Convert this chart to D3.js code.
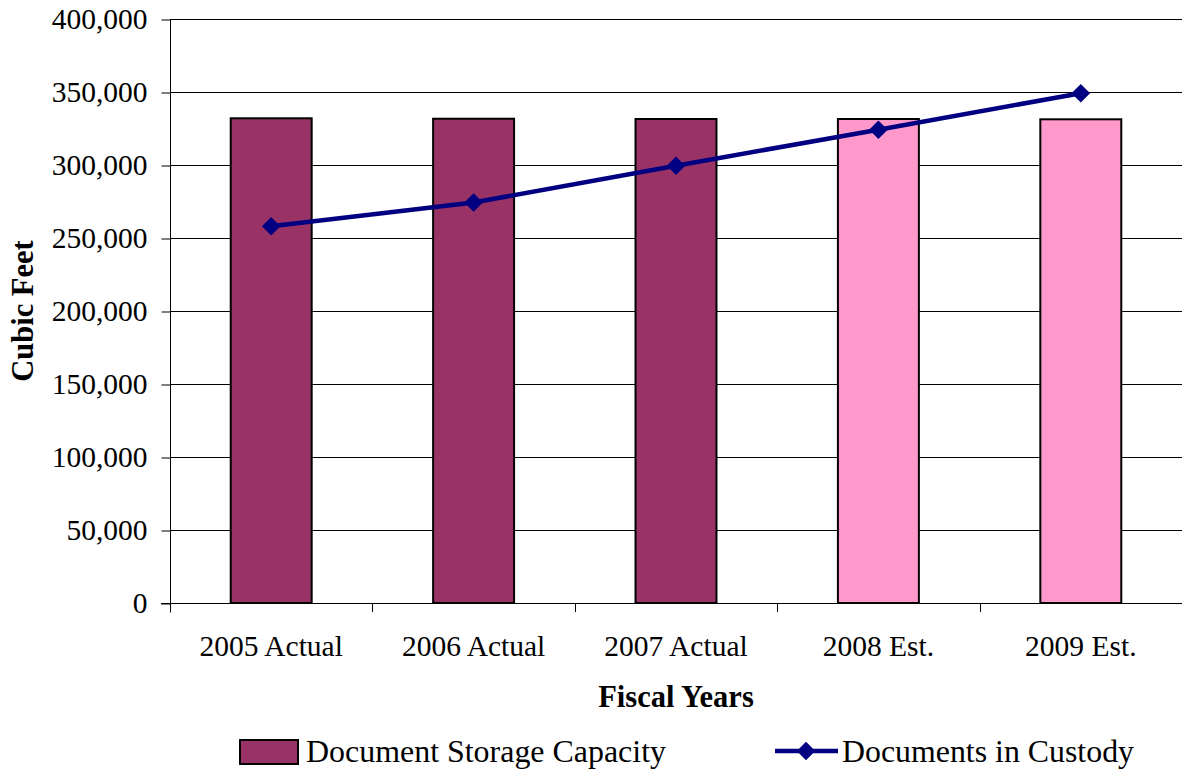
<!DOCTYPE html>
<html>
<head>
<meta charset="utf-8">
<script src="https://cdn.jsdelivr.net/npm/d3@7"></script>
<style>
  body { margin: 0; background: #fff; }
  text { font-family: "Liberation Serif", "Times New Roman", serif; fill: #000; }
</style>
</head>
<body>
<div id="chart"></div>
<script>
// chart data
var categories = ['2005 Actual', '2006 Actual', '2007 Actual', '2008 Est.', '2009 Est.'];
var capacity = [332000, 331700, 331500, 331500, 331300];
var custody = [258000, 274300, 299500, 324200, 349200];
var estimated = [false, false, false, true, true];
var yTicks = [0, 50000, 100000, 150000, 200000, 250000, 300000, 350000, 400000];

var width = 1182;
var height = 769;
var margin = {top: 19, right: 0, bottom: 166, left: 170};

var svg = d3.select('#chart').append('svg')
  .attr('width', width)
  .attr('height', height);

var x = d3.scaleBand()
  .domain(categories)
  .range([margin.left, width - margin.right])
  .paddingInner(0.6)
  .paddingOuter(0.3);

var y = d3.scaleLinear()
  .domain([0, 400000])
  .range([height - margin.bottom, margin.top]);

var fmt = d3.format(',');

// gridlines
svg.append('g')
  .selectAll('line')
  .data(yTicks.slice(1))
  .enter()
  .append('line')
  .attr('x1', margin.left)
  .attr('x2', width - margin.right)
  .attr('y1', function (d) { return Math.round(y(d)) + 0.5; })
  .attr('y2', function (d) { return Math.round(y(d)) + 0.5; })
  .style('stroke', '#000')
  .style('stroke-width', 1);

// y axis
var yAxis = svg.append('g')
  .attr('transform', 'translate(' + (margin.left + 0.5) + ',0.5)')
  .call(d3.axisLeft(y).tickValues(yTicks).tickFormat(fmt).tickSize(9).tickPadding(14));
yAxis.select('.domain').remove();
yAxis.append('line')
  .attr('y1', y(400000))
  .attr('y2', y(0) + 9)
  .style('stroke', '#000');
yAxis.selectAll('text')
  .style('font-size', '29.5px')
  .style('font-family', '"Liberation Serif", serif')
  .attr('fill', '#000');

// bars
svg.selectAll('.bar')
  .data(categories)
  .enter()
  .append('rect')
  .attr('class', 'bar')
  .attr('x', function (d) { return x(d); })
  .attr('y', function (d, i) { return y(capacity[i]); })
  .attr('width', x.bandwidth())
  .attr('height', function (d, i) { return y(0) - y(capacity[i]); })
  .style('fill', function (d, i) { return estimated[i] ? '#ff99cc' : '#993366'; })
  .style('stroke', '#000')
  .style('stroke-width', 2);

// x axis
var xAxisG = svg.append('g');
xAxisG.append('line')
  .attr('x1', margin.left - 9)
  .attr('x2', width - margin.right)
  .attr('y1', Math.round(y(0)) + 0.5)
  .attr('y2', Math.round(y(0)) + 0.5)
  .style('stroke', '#000');

var catWidth = (width - margin.right - margin.left) / categories.length;
xAxisG.selectAll('.xtick')
  .data(d3.range(categories.length + 1))
  .enter()
  .append('line')
  .attr('class', 'xtick')
  .attr('x1', function (i) { return Math.round(margin.left + i * catWidth) + 0.5; })
  .attr('x2', function (i) { return Math.round(margin.left + i * catWidth) + 0.5; })
  .attr('y1', y(0))
  .attr('y2', y(0) + 9)
  .style('stroke', '#000');

xAxisG.selectAll('.xlabel')
  .data(categories)
  .enter()
  .append('text')
  .attr('class', 'xlabel')
  .attr('x', function (d) { return x(d) + x.bandwidth() / 2; })
  .attr('y', 656)
  .attr('text-anchor', 'middle')
  .style('font-size', '29.5px')
  .text(function (d) { return d; });

// line series
var line = d3.line()
  .x(function (d, i) { return x(categories[i]) + x.bandwidth() / 2; })
  .y(function (d) { return y(d); });

svg.append('path')
  .datum(custody)
  .attr('d', line)
  .style('fill', 'none')
  .style('stroke', '#000080')
  .style('stroke-width', 4.5);

var diamond = d3.symbol().type(d3.symbolDiamond2).size(220);
svg.selectAll('.marker')
  .data(custody)
  .enter()
  .append('path')
  .attr('class', 'marker')
  .attr('transform', function (d, i) {
    return 'translate(' + (x(categories[i]) + x.bandwidth() / 2) + ',' + y(d) + ')';
  })
  .attr('d', diamond)
  .style('fill', '#000080');

// axis titles
svg.append('text')
  .attr('x', (margin.left + width) / 2)
  .attr('y', 707)
  .attr('text-anchor', 'middle')
  .style('font-size', '30.5px')
  .style('font-weight', 'bold')
  .text('Fiscal Years');

svg.append('text')
  .attr('transform', 'translate(33,311) rotate(-90)')
  .attr('text-anchor', 'middle')
  .style('font-size', '30.5px')
  .style('font-weight', 'bold')
  .text('Cubic Feet');

// legend
var legend = svg.append('g');
legend.append('rect')
  .attr('x', 240)
  .attr('y', 740)
  .attr('width', 58)
  .attr('height', 24)
  .style('fill', '#993366')
  .style('stroke', '#000')
  .style('stroke-width', 2);
legend.append('text')
  .attr('x', 306)
  .attr('y', 762)
  .attr('textLength', 360)
  .attr('lengthAdjust', 'spacingAndGlyphs')
  .style('font-size', '31px')
  .text('Document Storage Capacity');

legend.append('line')
  .attr('x1', 775)
  .attr('x2', 838)
  .attr('y1', 751)
  .attr('y2', 751)
  .style('stroke', '#000080')
  .style('stroke-width', 4.5);
legend.append('path')
  .attr('transform', 'translate(806,751)')
  .attr('d', diamond)
  .style('fill', '#000080');
legend.append('text')
  .attr('x', 842)
  .attr('y', 762)
  .attr('textLength', 292)
  .attr('lengthAdjust', 'spacingAndGlyphs')
  .style('font-size', '31px')
  .text('Documents in Custody');
</script>
</body>
</html>
